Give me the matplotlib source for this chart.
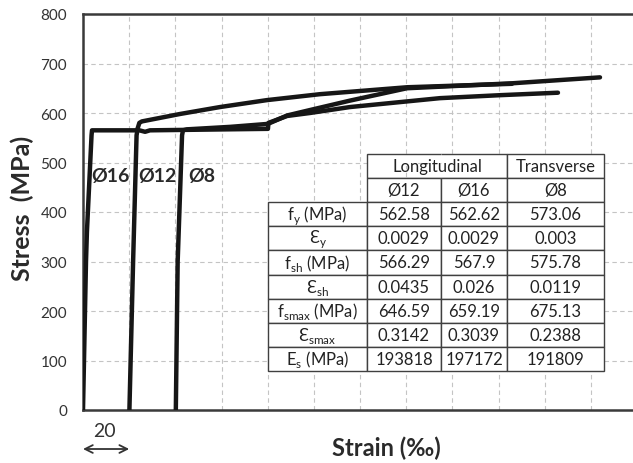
import matplotlib
matplotlib.use("Agg")
import matplotlib.pyplot as plt
import numpy as np

plt.rcParams["font.family"] = ["Lato", "DejaVu Sans"]
plt.rcParams["mathtext.fontset"] = "custom"
plt.rcParams["mathtext.rm"] = "Lato"

# Stress-strain curves (strain in per mille, each bar shifted by 20 per mille)
strain_d16 = [0.0, 1.3, 1.7, 3.7, 3.9, 23.4, 24.4, 25.5, 42.0, 59.3, 79.6, 102.6, 140.3, 185.8]
stress_d16 = [0, 300, 360, 555, 565, 565, 580, 583, 598, 612, 626, 638, 652, 659]

strain_d12 = [20.1, 21.7, 23.2, 23.6, 26.9, 29.0, 80.1, 80.3, 88.4, 98.3, 115.6, 154.6, 180.6, 205.7]
stress_d12 = [0, 300, 555, 566, 562, 565, 568, 580, 594, 600, 612, 630, 636, 641]

strain_d8 = [40.2, 41.0, 42.9, 43.3, 45.0, 63.7, 80.1, 88.4, 98.3, 115.6, 140.3, 185.8, 223.9]
stress_d8 = [0, 300, 555, 565, 567, 572, 578, 595, 606, 625, 650, 660, 672]

bar_names = ["Ø16", "Ø12", "Ø8"]
bar_label_x = [3.5, 23.8, 45.4]
bar_label_y = 474

yticks = [0, 100, 200, 300, 400, 500, 600, 700, 800]
xticks = list(range(0, 240, 20))
scale_len = 20

# Material properties table
group_names = ["Longitudinal", "Transverse"]
col_names = ["Ø12", "Ø16", "Ø8"]
row_names = [r"f$_\mathregular{y}$ (MPa)", r"Ɛ$_\mathregular{y}$", r"f$_\mathregular{sh}$ (MPa)",
             r"Ɛ$_\mathregular{sh}$", r"f$_\mathregular{smax}$ (MPa)", r"Ɛ$_\mathregular{smax}$",
             r"E$_\mathregular{s}$ (MPa)"]
fy = [562.58, 562.62, 573.06]
eps_y = [0.0029, 0.0029, 0.003]
fsh = [566.29, 567.9, 575.78]
eps_sh = [0.0435, 0.026, 0.0119]
fsmax = [646.59, 659.19, 675.13]
eps_smax = [0.3142, 0.3039, 0.2388]
Es = [193818, 197172, 191809]

W, H = 633, 464
fig = plt.figure(figsize=(W / 100, H / 100), dpi=100)
ax = fig.add_axes([83 / W, 53 / H, 553 / W, 396 / H])

line_kw = dict(color="#161616", lw=3.2, solid_joinstyle="round", solid_capstyle="round", zorder=3)
ax.plot(strain_d16, stress_d16, **line_kw)
ax.plot(strain_d12, stress_d12, **line_kw)
ax.plot(strain_d8, stress_d8, **line_kw)

ax.set_xlim(0, 553 / 2.309)
ax.set_ylim(0, 800)
ax.set_xticks(xticks)
ax.set_xticklabels([])
ax.set_yticks(yticks)
ax.tick_params(axis="both", length=0)
ax.tick_params(axis="y", labelsize=11, pad=11.5, labelcolor="#333333")
ax.grid(True, ls=(0, (4, 3)), color="#c4c4c4", lw=0.8, zorder=0)
ax.set_axisbelow(True)
for side in ["left", "bottom", "top", "right"]:
    ax.spines[side].set_color("#3a3a3a")
    ax.spines[side].set_linewidth(1.8)

for name, x in zip(bar_names, bar_label_x):
    ax.text(x, bar_label_y, name, ha="left", va="center", fontsize=14,
            fontweight="bold", color="#2a2a2a", zorder=4)

# Table
rows = [fy, eps_y, fsh, eps_sh, fsmax, eps_smax, Es]
cell_text = [["", "", "", ""], [""] + col_names]
for name, vals in zip(row_names, rows):
    cell_text.append([name] + [str(v) for v in vals])

col_w = [99, 74, 66, 97]
tx0, tx1 = (268 - 83) / 553, (604 - 83) / 553
ty0, ty1 = (411 - 372) / 396, (411 - 155) / 396
tab = ax.table(cellText=cell_text, colWidths=[c / sum(col_w) for c in col_w],
               cellLoc="center", bbox=[tx0, ty0, tx1 - tx0, ty1 - ty0], zorder=5)
tab.auto_set_font_size(False)
tab.set_fontsize(12)
for (r, c), cell in tab.get_celld().items():
    cell.set_edgecolor("#404040")
    cell.set_linewidth(1.0)
    cell.get_text().set_color("#222222")
    if c == 0 and r < 2:
        cell.visible_edges = "open"
        cell.set_facecolor("none")
    elif r == 0 and c == 1:
        cell.visible_edges = "BTL"
    elif r == 0 and c == 2:
        cell.visible_edges = "BTR"

tot = sum(col_w)
row_h = (ty1 - ty0) / 9
long_x = tx0 + (col_w[0] + (col_w[1] + col_w[2]) / 2) / tot * (tx1 - tx0)
trans_x = tx0 + (col_w[0] + col_w[1] + col_w[2] + col_w[3] / 2) / tot * (tx1 - tx0)
hy = ty1 - row_h / 2
ax.text(long_x, hy, group_names[0], transform=ax.transAxes, ha="center", va="center",
        fontsize=12, color="#222222", zorder=6)
ax.text(trans_x, hy, group_names[1], transform=ax.transAxes, ha="center", va="center",
        fontsize=12, color="#222222", zorder=6)

# Strain scale indicator below the axis
ax.annotate("", xy=(0, -0.0985), xytext=(scale_len, -0.0985),
            xycoords=("data", "axes fraction"), textcoords=("data", "axes fraction"),
            arrowprops=dict(arrowstyle="<->", lw=1.3, color="#333333",
                            shrinkA=0, shrinkB=0, mutation_scale=14),
            annotation_clip=False)
ax.text(scale_len / 2 - 0.8, -0.053, str(scale_len), transform=ax.get_xaxis_transform(),
        ha="center", va="center", fontsize=14, color="#333333", clip_on=False)

fig.text(22 / W, 1 - 208 / H, "Stress  (MPa)", rotation=90, ha="center", va="center",
         fontsize=18, fontweight="bold", color="#2a2a2a")
fig.text(386 / W, 1 - 448 / H, "Strain (‰)", ha="center", va="center",
         fontsize=17, fontweight="bold", color="#2a2a2a")

fig.savefig("out.png", dpi=100)
